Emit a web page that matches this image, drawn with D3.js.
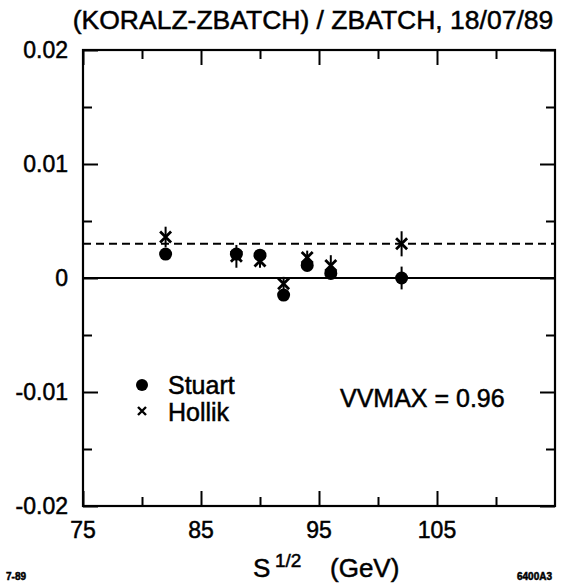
<!DOCTYPE html>
<html>
<head>
<meta charset="utf-8">
<script src="https://cdn.jsdelivr.net/npm/d3@7"></script>
<style>
  body { margin: 0; background: #fff; }
  text { font-family: "Liberation Sans", Arial, sans-serif; fill: #000; stroke: #000; stroke-width: 0.5px; }
</style>
</head>
<body>
<div id="chart"></div>
<script>
// energies (GeV) and relative differences
const energy = [82, 88, 90, 92, 94, 96, 102];
const stuart = [0.0021, 0.0021, 0.0020, -0.0015, 0.0011, 0.0004, 0.0000];
const stuartErr = [0.0003, 0.0003, 0.0003, 0.0003, 0.0003, 0.0003, 0.0010];
const hollik = [0.0036, 0.0019, 0.0015, -0.0005, 0.0018, 0.0011, 0.0030];
const hollikErr = [0.0009, 0.0010, 0.0006, 0.0006, 0.0006, 0.0009, 0.0011];
const dashedLevel = 0.003;

const xTicks = [75, 85, 95, 105];
const xMinor = [80, 90, 100, 110];
const yTicks = [0.02, 0.01, 0, -0.01, -0.02];
const yLabels = ["0.02", "0.01", "0", "-0.01", "-0.02"];
const yMinor = [0.015, 0.005, -0.005, -0.015];

const width = 564, height = 585;
const plotLeft = 83, plotRight = 555, plotTop = 50, plotBottom = 506;

const svg = d3.select("#chart").append("svg")
    .attr("width", width)
    .attr("height", height);

const x = d3.scaleLinear().domain([75, 115]).range([plotLeft, plotRight]);
const y = d3.scaleLinear().domain([-0.02, 0.02]).range([plotBottom, plotTop]);

const majorLen = 15, minorLen = 9;

// axes on all four sides, ticks pointing inward
function tickAxis(axisFn, scale, vals, len, tx, ty) {
    svg.append("g")
        .attr("transform", `translate(${tx},${ty})`)
        .call(axisFn(scale).tickValues(vals).tickSize(len).tickFormat(""))
        .call(g => g.select(".domain").remove())
        .call(g => g.selectAll("line").attr("stroke", "#000").attr("stroke-width", 2));
}
tickAxis(d3.axisTop, x, xTicks, majorLen, 0, plotBottom);
tickAxis(d3.axisTop, x, xMinor, minorLen, 0, plotBottom);
tickAxis(d3.axisBottom, x, xTicks, majorLen, 0, plotTop);
tickAxis(d3.axisBottom, x, xMinor, minorLen, 0, plotTop);
tickAxis(d3.axisRight, y, yTicks, majorLen, plotLeft, 0);
tickAxis(d3.axisRight, y, yMinor, minorLen, plotLeft, 0);
tickAxis(d3.axisLeft, y, yTicks, majorLen, plotRight, 0);
tickAxis(d3.axisLeft, y, yMinor, minorLen, plotRight, 0);

svg.append("rect")
    .attr("x", plotLeft).attr("y", plotTop)
    .attr("width", plotRight - plotLeft).attr("height", plotBottom - plotTop)
    .attr("fill", "none").attr("stroke", "#000").attr("stroke-width", 2.2);

// tick labels
svg.append("g").selectAll("text")
    .data(xTicks).join("text")
    .attr("x", d => x(d)).attr("y", 538)
    .attr("text-anchor", "middle")
    .attr("font-size", 23)
    .text(d => d);

svg.append("g").selectAll("text")
    .data(yTicks).join("text")
    .attr("x", 68).attr("y", d => y(d) + 8)
    .attr("text-anchor", "end")
    .attr("font-size", 23)
    .text((d, i) => yLabels[i]);

// reference lines
svg.append("line")
    .attr("x1", plotLeft).attr("x2", plotRight)
    .attr("y1", y(0)).attr("y2", y(0))
    .attr("stroke", "#000").attr("stroke-width", 2);

svg.append("line")
    .attr("x1", plotLeft).attr("x2", plotRight)
    .attr("y1", y(dashedLevel)).attr("y2", y(dashedLevel))
    .attr("stroke", "#000").attr("stroke-width", 2)
    .attr("stroke-dasharray", "8,5");

// error bars
const pts = energy.map((e, i) => ({ e, s: stuart[i], se: stuartErr[i], h: hollik[i], he: hollikErr[i] }));

svg.append("g").selectAll("line")
    .data(pts).join("line")
    .attr("x1", d => x(d.e)).attr("x2", d => x(d.e))
    .attr("y1", d => y(d.s - d.se)).attr("y2", d => y(d.s + d.se))
    .attr("stroke", "#000").attr("stroke-width", 2);

svg.append("g").selectAll("line")
    .data(pts).join("line")
    .attr("x1", d => x(d.e)).attr("x2", d => x(d.e))
    .attr("y1", d => y(d.h - d.he)).attr("y2", d => y(d.h + d.he))
    .attr("stroke", "#000").attr("stroke-width", 2);

// Stuart dots
svg.append("g").selectAll("circle")
    .data(pts).join("circle")
    .attr("cx", d => x(d.e)).attr("cy", d => y(d.s))
    .attr("r", 6.5).attr("fill", "#000");

// Hollik crosses
const crossPath = s => `M${-s},${-s}L${s},${s}M${-s},${s}L${s},${-s}`;
svg.append("g").selectAll("path")
    .data(pts).join("path")
    .attr("transform", d => `translate(${x(d.e)},${y(d.h)})`)
    .attr("d", crossPath(5.5))
    .attr("stroke", "#000").attr("stroke-width", 2.8).attr("fill", "none");

// legend
svg.append("circle").attr("cx", 142).attr("cy", 385).attr("r", 6).attr("fill", "#000");
svg.append("text").attr("x", 168).attr("y", 394).attr("font-size", 25).text("Stuart");
svg.append("path")
    .attr("transform", "translate(142,411)")
    .attr("d", crossPath(4))
    .attr("stroke", "#000").attr("stroke-width", 2.4);
svg.append("text").attr("x", 168).attr("y", 421).attr("font-size", 25).text("Hollik");

svg.append("text").attr("x", 340).attr("y", 407).attr("font-size", 25).text("VVMAX = 0.96");

// titles
svg.append("text")
    .attr("x", 313).attr("y", 29)
    .attr("text-anchor", "middle")
    .attr("font-size", 26.5)
    .text("(KORALZ-ZBATCH) / ZBATCH, 18/07/89");

svg.append("text").attr("x", 253).attr("y", 577).attr("font-size", 26).text("S");
svg.append("text").attr("x", 275).attr("y", 567).attr("font-size", 19).text("1/2");
svg.append("text").attr("x", 330).attr("y", 577).attr("font-size", 26).text("(GeV)");

svg.append("text").attr("x", 6).attr("y", 580)
    .attr("font-size", 10).attr("font-weight", "bold").text("7-89");
svg.append("text").attr("x", 517).attr("y", 580)
    .attr("font-size", 10).attr("font-weight", "bold").text("6400A3");
</script>
</body>
</html>
